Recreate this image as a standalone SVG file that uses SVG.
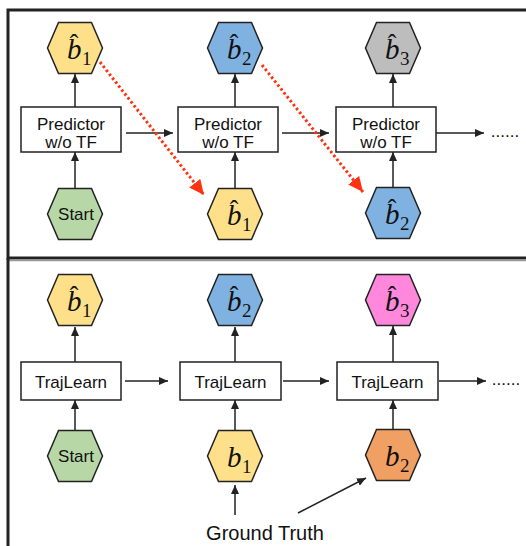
<svg xmlns="http://www.w3.org/2000/svg" width="526" height="546" viewBox="0 0 526 546">
<defs>
<marker id="ah" markerUnits="userSpaceOnUse" markerWidth="10" markerHeight="8" refX="9" refY="4" orient="auto"><path d="M0,0 L9,4 L0,8 z" fill="#222"/></marker>
<marker id="rh" markerUnits="userSpaceOnUse" markerWidth="16" markerHeight="14" refX="15" refY="7" orient="auto"><path d="M0,0 L15,7 L0,14 z" fill="#ff3311"/></marker>
</defs>
<style>
.hex{stroke:#222;stroke-width:1.5}
.y{fill:#ffe08a}.b{fill:#7fb2e0}.g{fill:#bdbdbd}.gr{fill:#b8d7a6}.p{fill:#ff88dc}.o{fill:#f1a064}
.box{fill:#fff;stroke:#222;stroke-width:1.5}
.t{font-family:"Liberation Sans",Arial,sans-serif;font-size:17px;fill:#111;text-anchor:middle}
.m{font-family:"Liberation Serif","Times New Roman",serif;font-style:italic;font-size:29px;fill:#111}
.s{font-family:"Liberation Serif","Times New Roman",serif;font-size:19px;fill:#111}
.h{font-family:"Liberation Serif","Times New Roman",serif;font-size:26px;fill:#111;text-anchor:middle}
.c{stroke:#222;stroke-width:1.5;fill:none;marker-end:url(#ah)}
.r{stroke:#ff3311;stroke-width:3;stroke-dasharray:2.5 2.5;fill:none;marker-end:url(#rh)}
</style>
<g id="frames">
<rect x="8" y="10" width="530" height="248" fill="none" stroke="#222" stroke-width="3"/>
<line x1="8" y1="260.5" x2="526" y2="260.5" stroke="#999" stroke-width="1.5"/>
<line x1="8" y1="258" x2="8" y2="546" stroke="#222" stroke-width="3"/>
</g>
<g id="connectors">
<line class="c" x1="75" y1="107" x2="75" y2="74"/>
<line class="c" x1="75" y1="188" x2="75" y2="152"/>
<line class="c" x1="235" y1="107" x2="235" y2="74"/>
<line class="c" x1="235" y1="188" x2="235" y2="152"/>
<line class="c" x1="393" y1="107" x2="393" y2="74"/>
<line class="c" x1="393" y1="187" x2="393" y2="152"/>
<line class="c" x1="126" y1="133" x2="173" y2="133"/>
<line class="c" x1="282" y1="133" x2="329" y2="133"/>
<line class="c" x1="436" y1="133" x2="484" y2="133"/>
<line class="r" x1="100" y1="62" x2="204" y2="195"/>
<line class="r" x1="262" y1="65" x2="363" y2="192"/>
<line class="c" x1="75" y1="362" x2="75" y2="327"/>
<line class="c" x1="75" y1="431" x2="75" y2="400"/>
<line class="c" x1="235" y1="362" x2="235" y2="327"/>
<line class="c" x1="235" y1="431" x2="235" y2="400"/>
<line class="c" x1="393" y1="362" x2="393" y2="326"/>
<line class="c" x1="393" y1="430" x2="393" y2="400"/>
<line class="c" x1="125" y1="381" x2="168" y2="381"/>
<line class="c" x1="283" y1="381" x2="329" y2="381"/>
<line class="c" x1="439" y1="381" x2="486" y2="381"/>
<line class="c" x1="235" y1="515" x2="235" y2="485"/>
<line class="c" x1="298" y1="513" x2="366" y2="478"/>
</g>
<g id="top-b1hat" transform="translate(75,48)"><polygon class="hex y" points="-27.5,0 -16.5,-25.5 16.5,-25.5 27.5,0 16.5,25.5 -16.5,25.5"/><text class="h" x="-1" y="4">ˆ</text><text class="m" x="-8" y="11">b</text><text class="s" x="7" y="17">1</text></g>
<g id="top-b2hat" transform="translate(235,48)"><polygon class="hex b" points="-27.5,0 -16.5,-25.5 16.5,-25.5 27.5,0 16.5,25.5 -16.5,25.5"/><text class="h" x="-1" y="4">ˆ</text><text class="m" x="-8" y="11">b</text><text class="s" x="7" y="17">2</text></g>
<g id="top-b3hat" transform="translate(393,48)"><polygon class="hex g" points="-27.5,0 -16.5,-25.5 16.5,-25.5 27.5,0 16.5,25.5 -16.5,25.5"/><text class="h" x="-1" y="4">ˆ</text><text class="m" x="-8" y="11">b</text><text class="s" x="7" y="17">3</text></g>
<g id="top-box1"><rect class="box" x="21" y="107" width="100" height="45"/><text class="t" x="71" y="130">Predictor</text><text class="t" x="71" y="148">w/o TF</text></g>
<g id="top-box2"><rect class="box" x="178" y="107" width="100" height="45"/><text class="t" x="228" y="130">Predictor</text><text class="t" x="228" y="148">w/o TF</text></g>
<g id="top-box3"><rect class="box" x="336" y="107" width="100" height="45"/><text class="t" x="386" y="130">Predictor</text><text class="t" x="386" y="148">w/o TF</text></g>
<g id="top-dots"><text class="t" x="505" y="137">......</text></g>
<g id="top-start" transform="translate(75,214)"><polygon class="hex gr" points="-27.5,0 -16.5,-25.5 16.5,-25.5 27.5,0 16.5,25.5 -16.5,25.5"/><text class="t" x="1" y="6">Start</text></g>
<g id="top-in-b1hat" transform="translate(235,214)"><polygon class="hex y" points="-27.5,0 -16.5,-25.5 16.5,-25.5 27.5,0 16.5,25.5 -16.5,25.5"/><text class="h" x="-1" y="4">ˆ</text><text class="m" x="-8" y="11">b</text><text class="s" x="7" y="17">1</text></g>
<g id="top-in-b2hat" transform="translate(393,213)"><polygon class="hex b" points="-27.5,0 -16.5,-25.5 16.5,-25.5 27.5,0 16.5,25.5 -16.5,25.5"/><text class="h" x="-1" y="4">ˆ</text><text class="m" x="-8" y="11">b</text><text class="s" x="7" y="17">2</text></g>
<g id="bot-b1hat" transform="translate(75,300)"><polygon class="hex y" points="-27.5,0 -16.5,-25.5 16.5,-25.5 27.5,0 16.5,25.5 -16.5,25.5"/><text class="h" x="-1" y="4">ˆ</text><text class="m" x="-8" y="11">b</text><text class="s" x="7" y="17">1</text></g>
<g id="bot-b2hat" transform="translate(235,300)"><polygon class="hex b" points="-27.5,0 -16.5,-25.5 16.5,-25.5 27.5,0 16.5,25.5 -16.5,25.5"/><text class="h" x="-1" y="4">ˆ</text><text class="m" x="-8" y="11">b</text><text class="s" x="7" y="17">2</text></g>
<g id="bot-b3hat" transform="translate(393,300)"><polygon class="hex p" points="-27.5,0 -16.5,-25.5 16.5,-25.5 27.5,0 16.5,25.5 -16.5,25.5"/><text class="h" x="-1" y="4">ˆ</text><text class="m" x="-8" y="11">b</text><text class="s" x="7" y="17">3</text></g>
<g id="bot-box1"><rect class="box" x="21" y="362" width="100" height="38"/><text class="t" x="71" y="387.5">TrajLearn</text></g>
<g id="bot-box2"><rect class="box" x="180" y="362" width="101" height="38"/><text class="t" x="230.5" y="387.5">TrajLearn</text></g>
<g id="bot-box3"><rect class="box" x="337" y="362" width="101" height="38"/><text class="t" x="387.5" y="387.5">TrajLearn</text></g>
<g id="bot-dots"><text class="t" x="506" y="385">......</text></g>
<g id="bot-start" transform="translate(75,456)"><polygon class="hex gr" points="-27.5,0 -16.5,-25.5 16.5,-25.5 27.5,0 16.5,25.5 -16.5,25.5"/><text class="t" x="1" y="6">Start</text></g>
<g id="bot-b1" transform="translate(235,456)"><polygon class="hex y" points="-27.5,0 -16.5,-25.5 16.5,-25.5 27.5,0 16.5,25.5 -16.5,25.5"/><text class="m" x="-8" y="11">b</text><text class="s" x="7" y="17">1</text></g>
<g id="bot-b2" transform="translate(393,455)"><polygon class="hex o" points="-27.5,0 -16.5,-25.5 16.5,-25.5 27.5,0 16.5,25.5 -16.5,25.5"/><text class="m" x="-8" y="11">b</text><text class="s" x="7" y="17">2</text></g>
<g id="ground-truth"><text class="t" x="265" y="540" style="font-size:20px">Ground Truth</text></g>
</svg>
